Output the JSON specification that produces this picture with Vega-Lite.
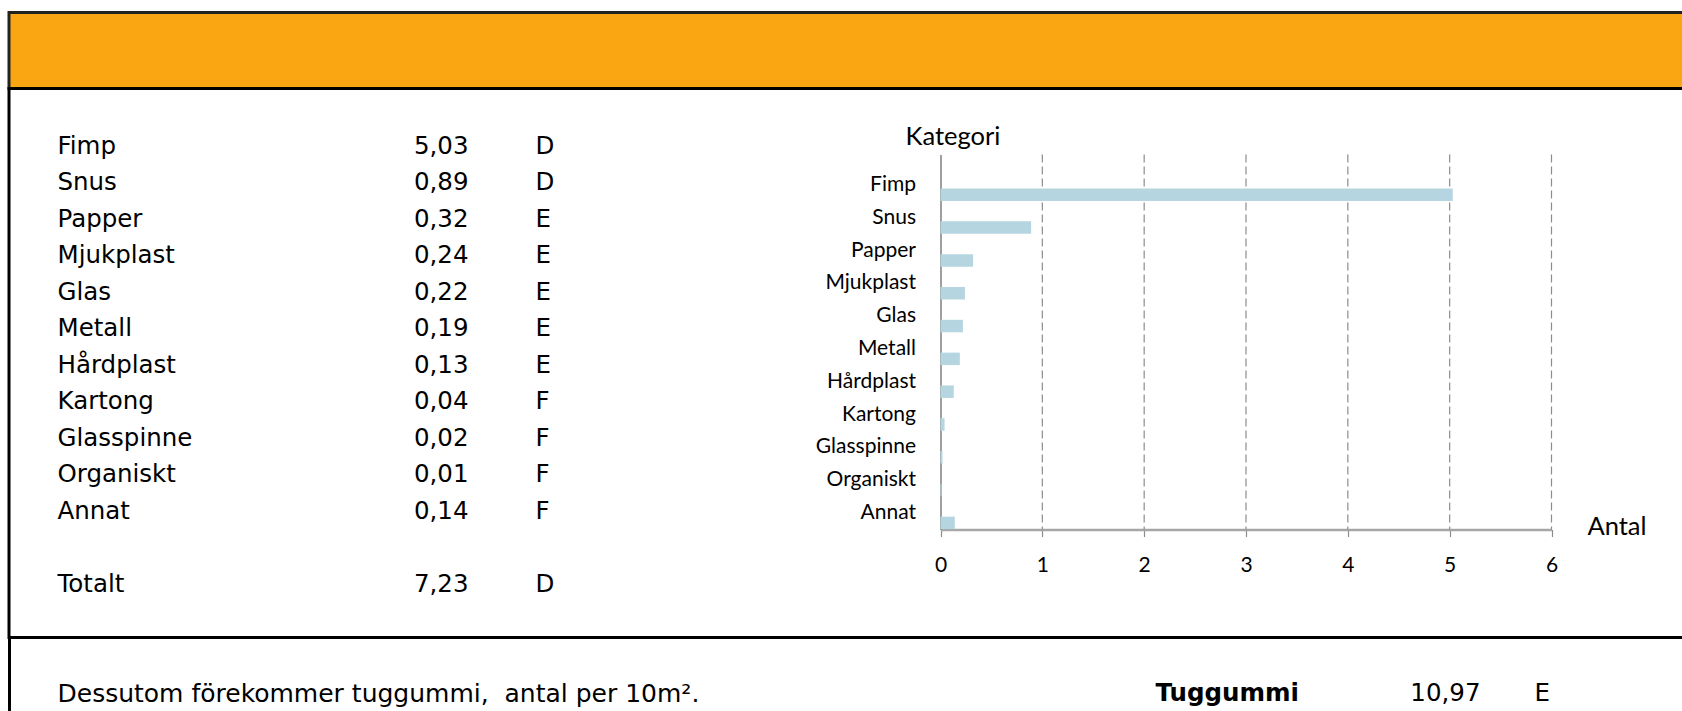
{
  "$schema": "https://vega.github.io/schema/vega-lite/v6.json",
  "padding": {"left": 7, "top": 10.5, "right": -3, "bottom": 0},
  "autosize": {"type": "pad"},
  "spacing": 0,
  "bounds": "flush",
  "config": {
    "view": {"stroke": null},
    "locale": {"number": {"decimal": ",", "thousands": "\u00a0", "grouping": [3], "currency": ["", " kr"]}},
    "text": {"font": "DejaVu Sans", "fontSize": 24.5, "color": "#000000", "baseline": "middle"}
  },
  "datasets": {
    "skrap": [
      {"kategori": "Fimp", "antal": 5.03, "klass": "D"},
      {"kategori": "Snus", "antal": 0.89, "klass": "D"},
      {"kategori": "Papper", "antal": 0.32, "klass": "E"},
      {"kategori": "Mjukplast", "antal": 0.24, "klass": "E"},
      {"kategori": "Glas", "antal": 0.22, "klass": "E"},
      {"kategori": "Metall", "antal": 0.19, "klass": "E"},
      {"kategori": "Hårdplast", "antal": 0.13, "klass": "E"},
      {"kategori": "Kartong", "antal": 0.04, "klass": "F"},
      {"kategori": "Glasspinne", "antal": 0.02, "klass": "F"},
      {"kategori": "Organiskt", "antal": 0.01, "klass": "F"},
      {"kategori": "Annat", "antal": 0.14, "klass": "F"},
      {"kategori": "Totalt", "antal": 7.23, "klass": "D"}
    ],
    "tuggummi": [
      {"kategori": "Tuggummi", "antal": 10.97, "klass": "E"}
    ],
    "skala": [
      {"antal": 1}, {"antal": 2}, {"antal": 3}, {"antal": 4}, {"antal": 5}, {"antal": 6}
    ]
  },
  "vconcat": [
    {
      "width": 1675,
      "height": 76,
      "view": {"fill": "#F9A612", "stroke": "#222222", "strokeWidth": 3},
      "data": {"values": [{"t": ""}]},
      "mark": {"type": "text"},
      "encoding": {"text": {"field": "t"}}
    },
    {
      "width": 1675,
      "height": 549,
      "view": {"fill": "#ffffff", "stroke": "#000000", "strokeWidth": 3},
      "data": {"name": "skrap"},
      "resolve": {"scale": {"x": "independent", "y": "independent"}, "axis": {"x": "independent", "y": "independent"}},
      "layer": [
        {
          "encoding": {
            "y": {
              "field": "kategori", "type": "nominal", "sort": null, "axis": null,
              "scale": {"type": "point", "padding": 0, "domain": ["Fimp", "Snus", "Papper", "Mjukplast", "Glas", "Metall", "Hårdplast", "Kartong", "Glasspinne", "Organiskt", "Annat", " ", "Totalt"], "range": [58, 496.6]}
            }
          },
          "layer": [
            {
              "mark": {"type": "text", "align": "left"},
              "encoding": {
                "x": {"datum": "Kategori", "type": "nominal", "axis": null, "scale": {"type": "point", "padding": 0, "domain": ["Kategori", "Antal", "Klass"], "range": [48.5, 526.5]}},
                "text": {"field": "kategori"}
              }
            },
            {
              "mark": {"type": "text", "align": "right", "dx": 172},
              "encoding": {
                "x": {"datum": "Antal", "type": "nominal", "axis": null},
                "text": {"field": "antal", "type": "quantitative", "format": ".2f"}
              }
            },
            {
              "mark": {"type": "text", "align": "left"},
              "encoding": {
                "x": {"datum": "Klass", "type": "nominal", "axis": null},
                "text": {"field": "klass"}
              }
            }
          ]
        },
        {
          "transform": [{"filter": "datum.kategori !== 'Totalt'"}],
          "layer": [
            {
              "data": {"name": "skala"},
              "mark": {"type": "rule", "strokeDash": [8, 4], "color": "#8c8c8c", "strokeWidth": 1.2},
              "encoding": {
                "x": {"field": "antal", "type": "quantitative"},
                "y": {"datum": "Fimp", "type": "nominal", "bandPosition": -0.43},
                "y2": {"datum": "Annat", "bandPosition": 1}
              }
            },
            {
              "mark": {"type": "bar", "height": 12.5, "yOffset": 9.8, "color": "#B5D6E0"},
              "encoding": {
                "x": {
                  "field": "antal", "type": "quantitative",
                  "scale": {"domain": [0, 6], "range": [931.5, 1542.5], "nice": false, "zero": true},
                  "axis": {
                    "orient": "bottom", "offset": -108, "values": [0, 1, 2, 3, 4, 5, 6], "format": "d",
                    "grid": false,
                    "domainColor": "#a6a6a6", "domainWidth": 2.5,
                    "tickColor": "#8c8c8c", "tickSize": 7, "tickWidth": 1.2,
                    "labelFont": "Lato", "labelFontSize": 21, "labelColor": "#000000", "labelPadding": 18, "labelFlush": false,
                    "title": "Antal", "titleFont": "Lato", "titleFontSize": 25.5, "titleFontWeight": "normal", "titleColor": "#000000",
                    "titleX": 1607.5, "titleY": -3, "titleAlign": "center", "titleBaseline": "middle", "titleAngle": 0
                  }
                },
                "y": {
                  "field": "kategori", "type": "nominal", "sort": null,
                  "scale": {"type": "band", "domain": ["Fimp", "Snus", "Papper", "Mjukplast", "Glas", "Metall", "Hårdplast", "Kartong", "Glasspinne", "Organiskt", "Annat"], "range": [66, 441], "paddingInner": 0, "paddingOuter": 0.215, "align": 1},
                  "axis": {
                    "orient": "left", "offset": -931.5, "ticks": false, "grid": false,
                    "domainColor": "#7f7f7f", "domainWidth": 1.5,
                    "labelFont": "Lato", "labelFontSize": 21, "labelColor": "#000000", "labelPadding": 25,
                    "title": "Kategori", "titleAngle": 0, "titleX": 12, "titleY": 48, "titleAlign": "center", "titleBaseline": "middle",
                    "titleFont": "Lato", "titleFontSize": 25.5, "titleFontWeight": "normal", "titleColor": "#000000"
                  }
                }
              }
            }
          ]
        }
      ]
    },
    {
      "width": 1675,
      "height": 74,
      "data": {"name": "tuggummi"},
      "encoding": {
        "y": {
          "field": "kategori", "type": "nominal",
          "scale": {"type": "point", "align": 0.77},
          "axis": {"orient": "left", "domain": true, "domainColor": "#000000", "domainWidth": 3, "ticks": false, "labels": false, "title": null, "grid": false}
        }
      },
      "layer": [
        {
          "mark": {"type": "text", "align": "left", "fontSize": 25, "text": "Dessutom förekommer tuggummi,\u00a0 antal per 10m²."},
          "encoding": {
            "x": {"datum": "Text", "type": "nominal", "axis": null, "scale": {"type": "point", "padding": 0, "domain": ["Text", "Namn", "Antal", "Klass"], "range": [48.5, 1525.5]}}
          }
        },
        {
          "mark": {"type": "text", "align": "left", "fontWeight": "bold", "dx": 605.67},
          "encoding": {
            "x": {"datum": "Namn", "type": "nominal", "axis": null},
            "text": {"field": "kategori"}
          }
        },
        {
          "mark": {"type": "text", "align": "right", "dx": 438.33},
          "encoding": {
            "x": {"datum": "Antal", "type": "nominal", "axis": null},
            "text": {"field": "antal", "type": "quantitative", "format": ".2f"}
          }
        },
        {
          "mark": {"type": "text", "align": "left"},
          "encoding": {
            "x": {"datum": "Klass", "type": "nominal", "axis": null},
            "text": {"field": "klass"}
          }
        }
      ]
    }
  ]
}
